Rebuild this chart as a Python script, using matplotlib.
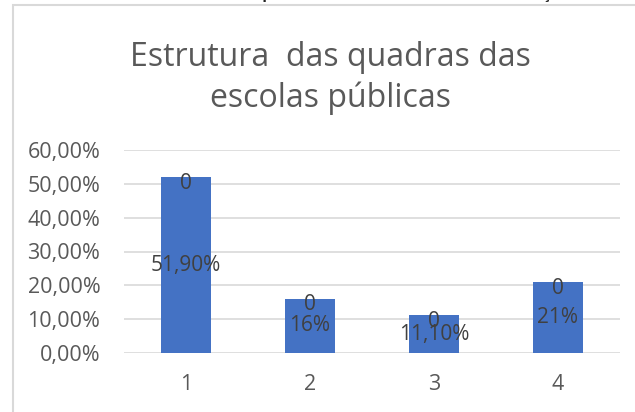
import matplotlib.pyplot as plt
import matplotlib.patches as mpatches

# chart data
categories = ["1", "2", "3", "4"]
values = [51.9, 16.0, 11.1, 21.0]
value_labels = ["51,90%", "16%", "11,10%", "21%"]
top_labels = ["0", "0", "0", "0"]
yticks = [0, 10, 20, 30, 40, 50, 60]
ytick_labels = ["0,00%", "10,00%", "20,00%", "30,00%", "40,00%", "50,00%", "60,00%"]

plt.rcParams['font.family'] = ['Open Sans', 'DejaVu Sans']

fig = plt.figure(figsize=(6.35, 4.12), dpi=100)

# chart frame (light gray border of the chart area)
frame = mpatches.Rectangle((13 / 635, -0.1), 1.0, 1 - 5 / 412 + 0.1, transform=fig.transFigure,
                           fill=False, edgecolor="#d9d9d9", linewidth=1.5)
fig.patches.append(frame)

# caption cut off at the top of the image
fig.text(0.5, 1 + 6 / 412, "Gráfico 5: Estrutura das quadras e material escolar da educação",
         ha="center", va="center", fontsize=12, fontweight="bold", color="#222222",
         family=["Liberation Sans", "DejaVu Sans"])

fig.text(330 / 635, 1 - 78 / 412, "Estrutura  das quadras das\nescolas públicas",
         ha="center", va="center", fontsize=23, color="#595959", linespacing=1.3)

ax = fig.add_axes([124 / 635, 1 - 353 / 412, 496 / 635, 203 / 412])
x = range(len(categories))
bars = ax.bar(x, values, width=0.4, color="#4472C4", zorder=3)

for i, b in enumerate(bars):
    h = b.get_height()
    ax.text(b.get_x() + b.get_width() / 2, h + 1.3, top_labels[i], ha="center", va="top",
            fontsize=15, color="#404040", zorder=4)
    ax.text(b.get_x() + b.get_width() / 2, h / 2, value_labels[i], ha="center", va="center",
            fontsize=15, color="#404040", zorder=4)

ax.set_xlim(-0.5, 3.5)
ax.set_ylim(0, 60)
ax.set_yticks(yticks)
ax.set_yticklabels(ytick_labels)
ax.set_xticks(list(x))
ax.set_xticklabels(categories)
ax.yaxis.grid(True, color="#d9d9d9", linewidth=1.2, zorder=0)
ax.tick_params(axis="both", length=0, labelsize=15.5, colors="#595959")
ax.tick_params(axis="x", pad=15)
ax.tick_params(axis="y", pad=17)
for s in ax.spines.values():
    s.set_visible(False)

fig.savefig("out.png", dpi=100)
